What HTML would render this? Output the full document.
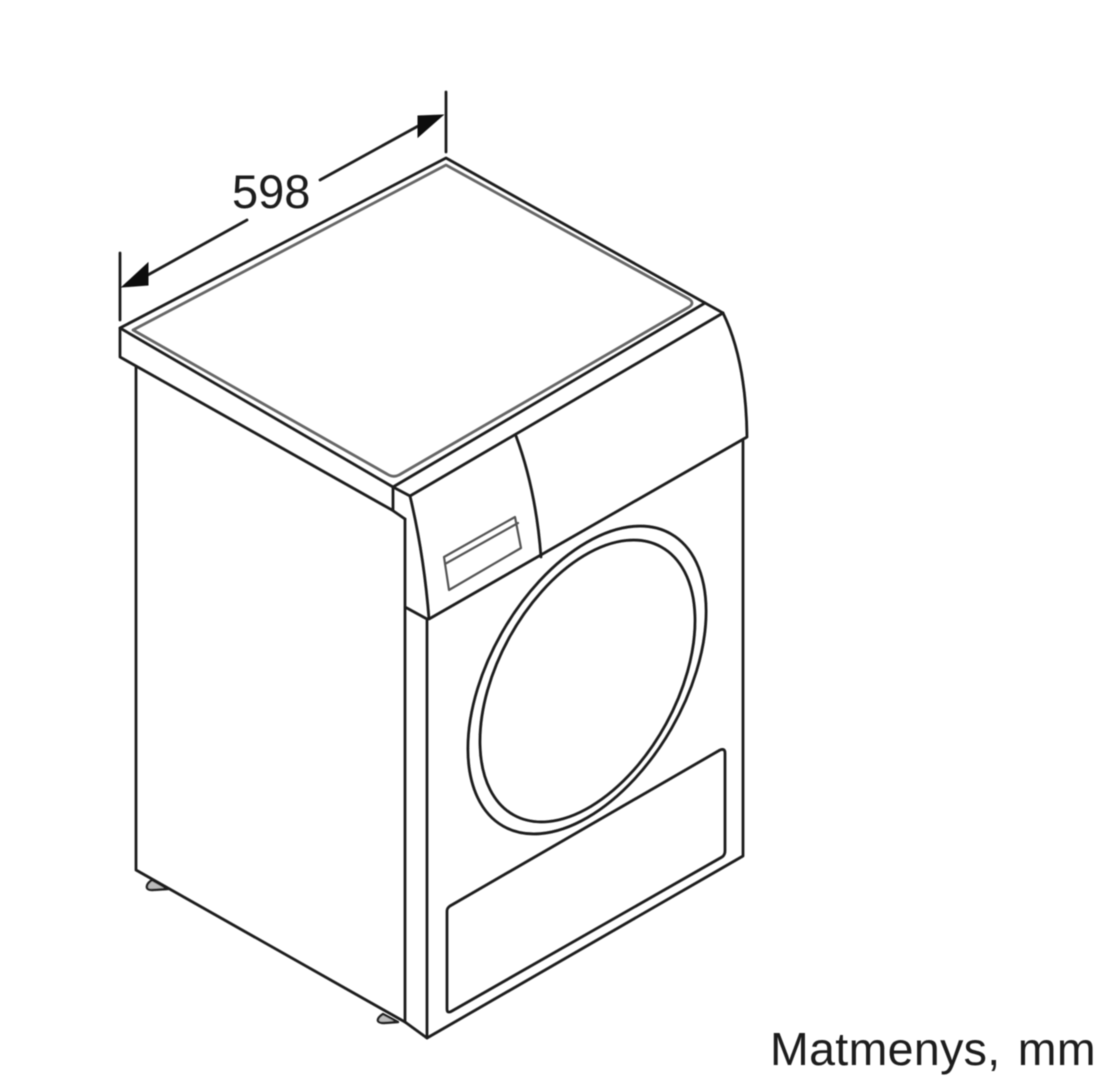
<!DOCTYPE html>
<html lang="lt">
<head>
<meta charset="utf-8">
<title>Matmenys</title>
<style>
html,body{margin:0;padding:0;background:#fff;width:1107px;height:1092px;overflow:hidden}
svg{display:block}
text{font-family:"Liberation Sans",sans-serif;font-size:46.5px;fill:#1a1a1a}
.l{fill:none;stroke:#1a1a1a;stroke-width:2.8;stroke-linejoin:round;stroke-linecap:round}
.g{fill:none;stroke:#555;stroke-width:2.2;stroke-linejoin:round;stroke-linecap:round}
.f{fill:#bbb;stroke:#222;stroke-width:2.4;stroke-linejoin:round;stroke-linecap:round}
</style>
</head>
<body>
<svg width="1107" height="1092" viewBox="0 0 1107 1092" xmlns="http://www.w3.org/2000/svg">
<defs><filter id="b" x="-5%" y="-5%" width="110%" height="110%"><feGaussianBlur stdDeviation="0.5"/></filter></defs>
<g filter="url(#b)">
<!-- dimension -->
<path class="l" d="M446 92V152M120 253V320M320 180L420 125M247 220L146 276"/>
<path d="M443 115L418 116L418 137Z M122 287L148 263L148 285Z" fill="#111" stroke="#111" stroke-width="1"/>

<!-- top -->
<path class="l" d="M393 487L120 328L446 158L723 313"/>
<path class="l" d="M120 328V357L392 510L405 519M393 487V510M393 487L410 496M393 487L705 303M410 496L723 313"/>
<!-- inner rim -->
<path d="M133 330L446 165L689 299Q695 303 689 307L399 475Q393 478 387 474Z" fill="none" stroke="#666" stroke-width="2.8" stroke-linejoin="round"/>

<!-- control panel -->
<path class="l" d="M410 496Q424 555 429 619L747 437Q746 360 723 313"/>
<path class="l" d="M516 436Q536 490 541 557"/>
<path class="g" d="M444 557L515 517L521 548L449 590ZM445 564L518 523"/>

<!-- feet -->
<path class="f" d="M152 880Q146 884 147 888Q148 890 152 890L168 889Z"/>
<path class="f" d="M383 1014Q377 1018 378 1021Q379 1023 384 1023L398 1022Z"/>

<!-- body -->
<path class="l" d="M136 367V870L405 1022L427 1038L743 856V441"/>
<path class="l" d="M405 519V1022M405 607L427 619M427 619V1038"/>

<!-- door -->
<ellipse class="l" cx="587" cy="680" rx="168.5" ry="97.4" transform="rotate(-60.1 587 680)"/>
<ellipse class="l" cx="587.5" cy="681" rx="153" ry="89.5" transform="rotate(-61.3 587.5 681)"/>

<!-- lower panel -->
<path class="l" d="M450 906L720 750Q725 748 725 753V851Q725 855 722 857L452 1011Q447 1014 447 1009V911Q447 908 450 906Z"/>

<text x="232" y="208" style="font-size:47px">598</text>
<text x="770" y="1065" style="letter-spacing:.35px;word-spacing:4px">Matmenys, mm</text>
</g>
</svg>
</body>
</html>
